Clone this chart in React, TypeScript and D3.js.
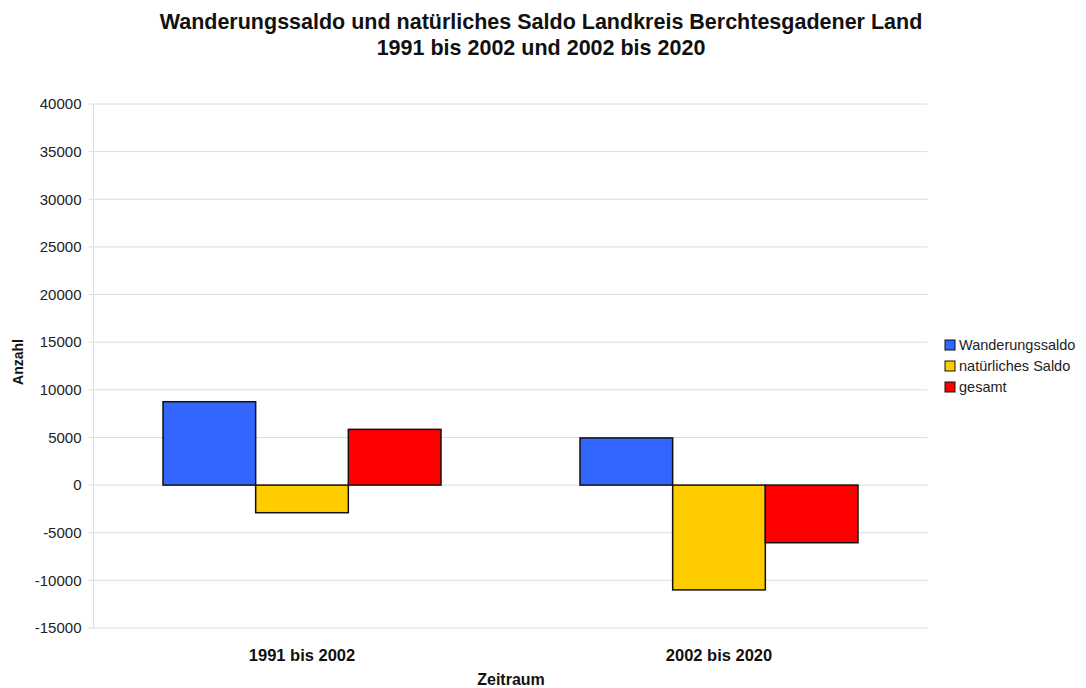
import React from "react";
import * as d3 from "d3";

const categories = ["1991 bis 2002", "2002 bis 2020"];
const seriesNames = ["Wanderungssaldo", "natürliches Saldo", "gesamt"];
const wanderungssaldo = [8750, 4950];
const natuerlichesSaldo = [-2900, -11000];
const gesamt = [5850, -6050];
const yTicks = [40000, 35000, 30000, 25000, 20000, 15000, 10000, 5000, 0, -5000, -10000, -15000];
const colors = ["#3366ff", "#ffcc00", "#ff0000"];

const W = 1086, H = 688;
const left = 93.5, right = 927.5, top = 104, bottom = 628;
const font = "'Liberation Sans', Arial, sans-serif";

export default function App() {
  const series = [wanderungssaldo, natuerlichesSaldo, gesamt];
  const x = d3.scaleBand<string>().domain(categories).range([left, right]).paddingInner(0).paddingOuter(0);
  const y = d3.scaleLinear().domain([-15000, 40000]).range([bottom, top]);
  const bw = x.bandwidth();
  const x1 = d3.scaleBand<number>().domain([0, 1, 2]).range([bw / 6, (bw * 5) / 6]);

  return (
    <svg width={W} height={H} style={{ position: "absolute", left: 0, top: 0, background: "#fff" }} fontFamily={font}>
      <text x={541} y={29} textAnchor="middle" fontSize={21.5} fontWeight="bold" fill="#111">Wanderungssaldo und natürliches Saldo Landkreis Berchtesgadener Land</text>
      <text x={541} y={55} textAnchor="middle" fontSize={21.5} fontWeight="bold" fill="#111">1991 bis 2002 und 2002 bis 2020</text>
      {yTicks.map((t) => (
        <g key={t}>
          <line x1={left - 5} x2={right} y1={y(t)} y2={y(t)} stroke="#dcdcdc" strokeWidth={1} />
          <text x={81.5} y={y(t) + 5.3} textAnchor="end" fontSize={15} fill="#222">{t}</text>
        </g>
      ))}
      <line x1={left} x2={left} y1={top} y2={bottom} stroke="#dcdcdc" strokeWidth={1} />
      {categories.map((c, i) => (
        <g key={c}>
          {series.map((s, j) => {
            const v = s[i];
            const y0 = y(Math.max(0, v));
            const h = Math.abs(y(v) - y(0));
            return (
              <rect key={j} x={(x(c) as number) + (x1(j) as number)} y={y0} width={x1.bandwidth()} height={h}
                fill={colors[j]} stroke="#111" strokeWidth={1.5} />
            );
          })}
          <text x={(x(c) as number) + bw / 2} y={661} textAnchor="middle" fontSize={16.5} fontWeight="bold" fill="#111">{c}</text>
        </g>
      ))}
      <text x={511} y={685} textAnchor="middle" fontSize={16} fontWeight="bold" fill="#111">Zeitraum</text>
      <text transform={`translate(23,362) rotate(-90)`} textAnchor="middle" fontSize={14} fontWeight="bold" fill="#111">Anzahl</text>
      {seriesNames.map((n, i) => (
        <g key={n} transform={`translate(945,${340 + i * 21})`}>
          <rect x={0} y={0} width={10} height={10} fill={colors[i]} stroke="#111" strokeWidth={1} />
          <text x={14} y={10} fontSize={14.5} fill="#222">{n}</text>
        </g>
      ))}
    </svg>
  );
}
